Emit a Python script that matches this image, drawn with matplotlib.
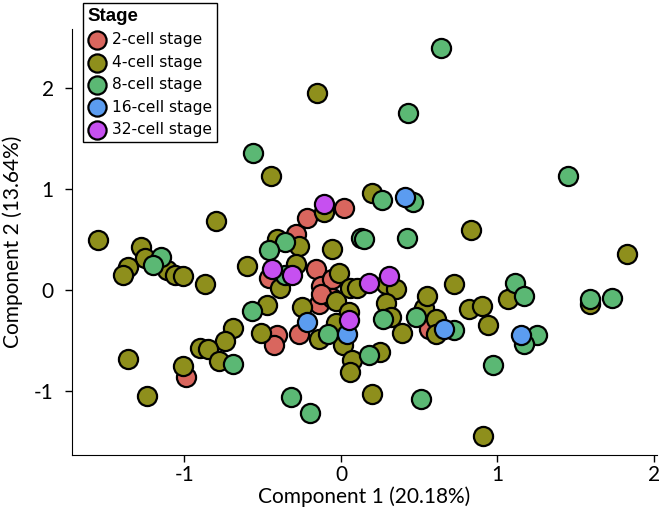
import matplotlib
matplotlib.use("Agg")
import matplotlib.pyplot as plt

# PCA scores, one list pair per stage
stages = ["2-cell stage", "4-cell stage", "8-cell stage", "16-cell stage", "32-cell stage"]
stage_colors = ["#D9665E", "#8E8F1C", "#5BB874", "#5B9CF0", "#C650F0"]

x_2cell = [-0.29, -0.22, 0.02, -0.46, -0.16, -0.13, -0.06, -0.14, -0.06, -0.13,
           -0.27, -0.41, -0.43, -0.99, 0.56]
y_2cell = [0.56, 0.72, 0.82, 0.12, 0.21, 0.04, 0.11, -0.14, -0.08, -0.04,
           -0.43, -0.44, -0.54, -0.86, -0.38]

x_4cell = [-0.15, -0.45, 0.20, -0.80, -1.55, 0.83, -1.28, -1.25, -1.36, -1.39,
           -1.11, -1.06, -1.01, -0.87, -0.60, -0.41, -0.27, -0.29, -0.39, -0.47,
           -0.25, -0.51, -0.69, -0.74, -0.90, -0.85, -0.78, -1.36, -1.01, -1.24,
           -0.11, -0.06, -0.01, -0.03, 0.06, 0.10, 0.29, 0.35, 0.29, 0.32,
           0.05, -0.03, -0.14, 0.01, 0.25, 0.07, 0.06, 0.39, 0.72, 0.53,
           0.55, 0.61, 0.61, 0.82, 0.90, 0.94, 0.20, 0.91, 1.83, 1.07, 1.59]
y_4cell = [1.95, 1.13, 0.96, 0.69, 0.50, 0.60, 0.43, 0.32, 0.23, 0.15,
           0.20, 0.15, 0.14, 0.06, 0.24, 0.51, 0.44, 0.26, 0.02, -0.15,
           -0.17, -0.42, -0.37, -0.50, -0.57, -0.58, -0.70, -0.68, -0.75, -1.05,
           0.78, 0.41, 0.17, -0.11, 0.02, 0.02, 0.06, 0.01, -0.13, -0.26,
           -0.22, -0.32, -0.48, -0.54, -0.61, -0.69, -0.81, -0.42, 0.06, -0.18,
           -0.06, -0.28, -0.43, -0.19, -0.16, -0.34, -1.03, -1.44, 0.36, -0.09, -0.14]

x_8cell = [0.64, 0.43, -0.56, 1.45, 0.26, 0.46, -1.15, -1.20, -0.36, -0.46,
           -0.36, -0.57, -0.69, -0.32, -0.20, 0.13, 0.15, 0.42, 0.27, -0.08,
           0.18, 0.48, 0.72, 0.97, 0.51, 1.11, 1.17, 1.25, 1.17, 1.59, 1.73]
y_8cell = [2.40, 1.76, 1.36, 1.13, 0.89, 0.87, 0.33, 0.25, 0.48, 0.40,
           0.15, -0.21, -0.73, -1.06, -1.22, 0.52, 0.51, 0.52, -0.28, -0.43,
           -0.64, -0.26, -0.39, -0.74, -1.08, 0.07, -0.06, -0.44, -0.53, -0.09, -0.08]

x_16cell = [0.41, -0.22, 0.04, 0.66, 1.15]
y_16cell = [0.92, -0.31, -0.43, -0.38, -0.44]

x_32cell = [-0.11, -0.44, -0.31, 0.18, 0.31, 0.05]
y_32cell = [0.85, 0.21, 0.15, 0.07, 0.14, -0.29]

xs = [x_2cell, x_4cell, x_8cell, x_16cell, x_32cell]
ys = [y_2cell, y_4cell, y_8cell, y_16cell, y_32cell]

plt.rcParams['font.family'] = ['Lato', 'DejaVu Sans']
plt.rcParams['axes.unicode_minus'] = False

fig = plt.figure(figsize=(6.59, 5.24), dpi=100)
ax = fig.add_axes([0.109, 0.132, 0.888, 0.813])

# draw order: red, olive, green, blue, purple on top
for i in [0, 1, 2, 3, 4]:
    ax.scatter(xs[i], ys[i], s=190, color=stage_colors[i], edgecolor='black',
               linewidth=1.6, label=stages[i], zorder=3 + i)

ax.set_xlim(-1.72, 2.02)
ax.set_ylim(-1.63, 2.59)
ax.set_xticks([-1, 0, 1, 2])
ax.set_yticks([-1, 0, 1, 2])
ax.spines['top'].set_visible(False)
ax.spines['right'].set_visible(False)
ax.tick_params(direction='out', length=5, width=1, labelsize=15)
ax.tick_params(axis='x', pad=2)
ax.tick_params(axis='y', pad=8)
ax.set_xlabel('Component 1 (20.18%)', fontsize=15, labelpad=1)
ax.set_ylabel('Component 2 (13.64%)', fontsize=15, labelpad=8)

leg = ax.legend(loc='upper left', bbox_to_anchor=(83 / 659, 1 - 3 / 524),
                bbox_transform=fig.transFigure, borderaxespad=0,
                title='Stage', alignment='left',
                prop={'family': 'DejaVu Sans', 'size': 11.2},
                title_fontproperties={'family': 'Liberation Sans', 'weight': 'bold', 'size': 13.5},
                frameon=True, fancybox=False, edgecolor='black', framealpha=1,
                handletextpad=0.35, labelspacing=0.48, borderpad=0.3,
                handlelength=1.2, markerscale=0.95)
leg.get_frame().set_linewidth(1.0)

fig.savefig('out.png', dpi=100)
